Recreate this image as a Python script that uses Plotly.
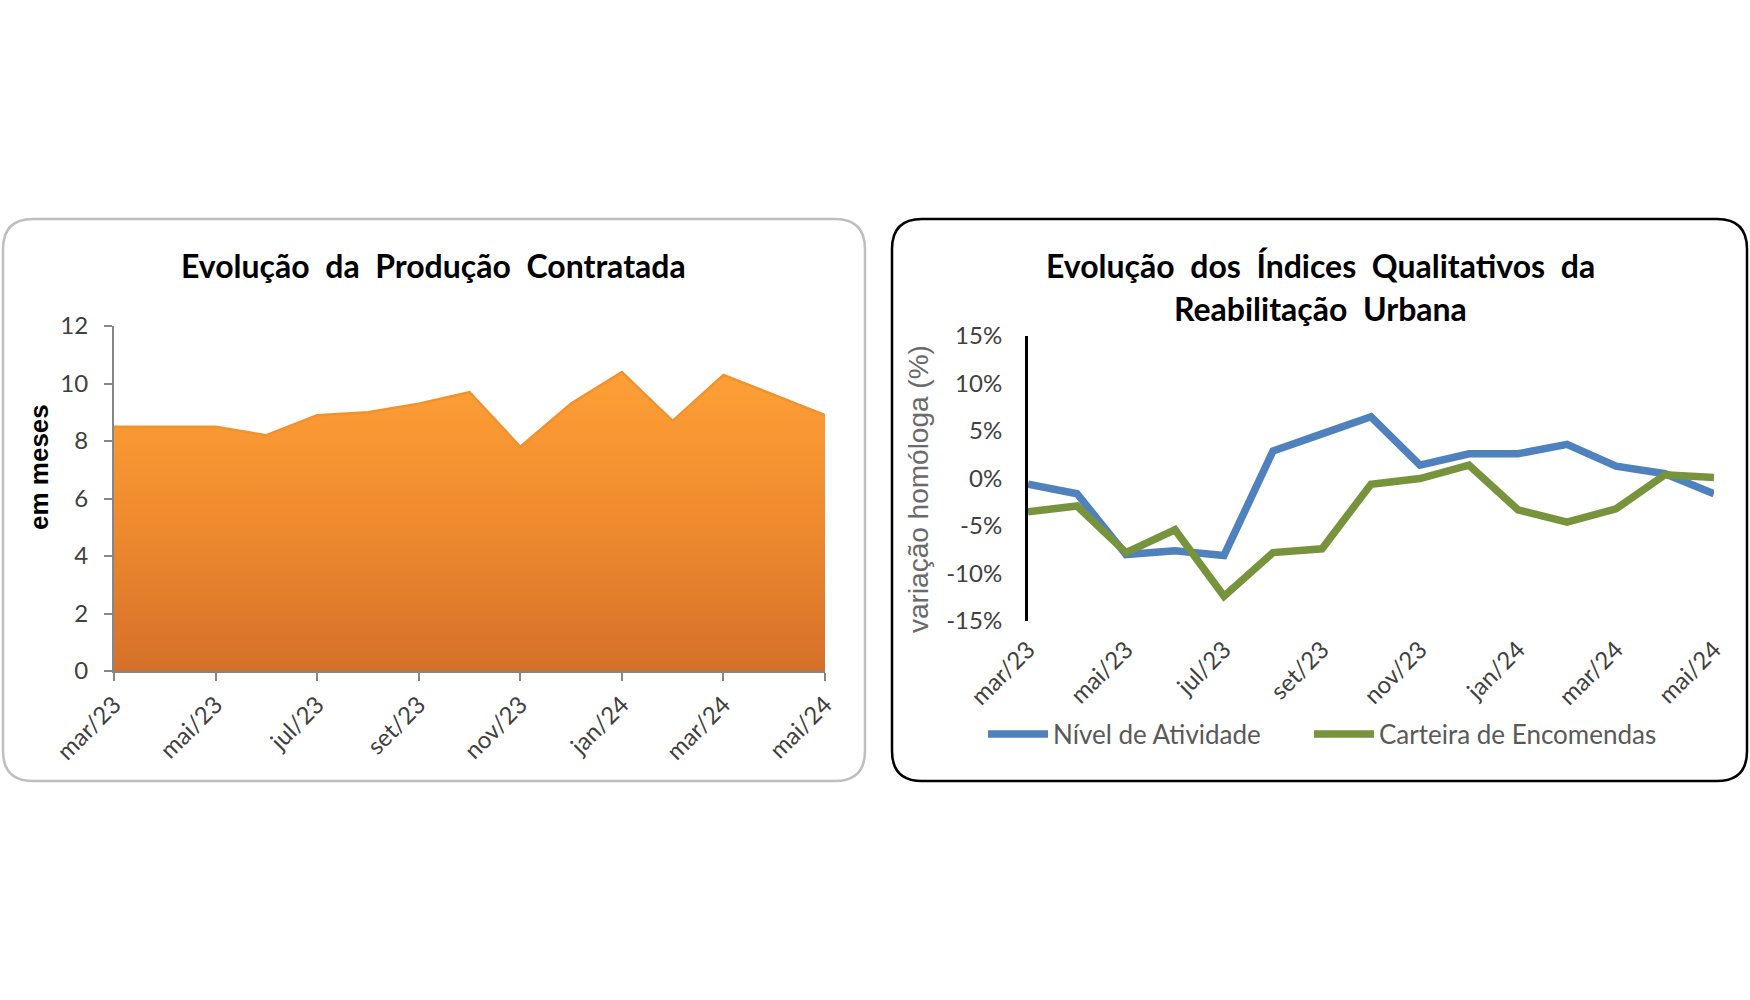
import plotly.graph_objects as go

W, H = 1750, 1000

months = ["mar/23", "abr/23", "mai/23", "jun/23", "jul/23", "ago/23", "set/23", "out/23",
          "nov/23", "dez/23", "jan/24", "fev/24", "mar/24", "abr/24", "mai/24"]
producao = [8.5, 8.5, 8.5, 8.2, 8.9, 9.0, 9.3, 9.7, 7.8, 9.3, 10.4, 8.7, 10.3, 9.6, 8.9]
nivel_atividade = [-0.6, -1.6, -8.0, -7.6, -8.1, 2.9, 4.7, 6.5, 1.4, 2.6, 2.6, 3.6, 1.3, 0.5, -1.6]
carteira_encomendas = [-3.5, -2.9, -7.8, -5.4, -12.4, -7.8, -7.4, -0.6, 0.0, 1.4, -3.3, -4.6, -3.2, 0.4, 0.1]
left_yticks = [0, 2, 4, 6, 8, 10, 12]
right_yticks = [-15, -10, -5, 0, 5, 10, 15]
right_yticktext = ["-15%", "-10%", "-5%", "0%", "5%", "10%", "15%"]

idx = list(range(len(months)))
tick_idx = idx[::2]
tick_txt = months[::2]

CAL = "Lato, 'Open Sans', sans-serif"
ARI = "'Liberation Sans', Arial, sans-serif"
SP = " &nbsp;"


def px(x):
    return x / W


def py(y):
    return 1 - y / H


def rrect(x0, y0, x1, y1, r):
    p = [
        f"M{px(x0 + r)},{py(y0)}", f"L{px(x1 - r)},{py(y0)}",
        f"Q{px(x1)},{py(y0)} {px(x1)},{py(y0 + r)}", f"L{px(x1)},{py(y1 - r)}",
        f"Q{px(x1)},{py(y1)} {px(x1 - r)},{py(y1)}", f"L{px(x0 + r)},{py(y1)}",
        f"Q{px(x0)},{py(y1)} {px(x0)},{py(y1 - r)}", f"L{px(x0)},{py(y0 + r)}",
        f"Q{px(x0)},{py(y0)} {px(x0 + r)},{py(y0)}", "Z",
    ]
    return " ".join(p)


fig = go.Figure()

fig.add_trace(go.Scatter(
    x=idx, y=producao, mode="lines", fill="tozeroy",
    line=dict(color="#F0922E", width=2.5),
    fillgradient=dict(type="vertical", start=0, stop=10.5,
                      colorscale=[[0, "#D5702A"], [0.5, "#EF8B2E"], [1, "#FFA036"]]),
    xaxis="x", yaxis="y", showlegend=False, hoverinfo="skip",
))

fig.add_trace(go.Scatter(
    x=idx, y=nivel_atividade, mode="lines", name="Nível de Atividade",
    line=dict(color="#4F81BD", width=7.5), xaxis="x2", yaxis="y2", legend="legend",
))
fig.add_trace(go.Scatter(
    x=idx, y=carteira_encomendas, mode="lines", name="Carteira de Encomendas",
    line=dict(color="#77933C", width=7.5), xaxis="x2", yaxis="y2", legend="legend2",
))

Lx = [px(114), px(825)]
Ly = [py(671), py(326)]
Rx = [px(1028), px(1714)]
Ry = [py(621), py(336)]

axis_font = dict(family=CAL, size=24, color="#404040")
title_font = dict(family=CAL, size=32, color="black")
legend_style = dict(orientation="h", yanchor="middle", xanchor="left",
                    font=dict(family=CAL, size=26, color="#595959"),
                    bgcolor="rgba(0,0,0,0)", itemwidth=60)

fig.update_layout(
    width=W, height=H, margin=dict(l=0, r=0, t=0, b=0, pad=0, autoexpand=False),
    paper_bgcolor="white", plot_bgcolor="rgba(0,0,0,0)",
    xaxis=dict(domain=Lx, anchor="y", range=[0, 14], tickvals=tick_idx, ticktext=tick_txt,
               tickangle=-45, showline=True, linecolor="#868686", linewidth=2,
               ticks="outside", ticklen=8, tickwidth=2, tickcolor="#868686", automargin=False,
               showgrid=False, zeroline=False, tickfont=axis_font, ticklabelstandoff=0),
    yaxis=dict(domain=Ly, anchor="x", range=[0, 12], tickvals=left_yticks,
               showline=True, linecolor="#868686", linewidth=2, automargin=False,
               ticks="outside", ticklen=8, tickwidth=2, tickcolor="#868686",
               showgrid=False, zeroline=False, tickfont=axis_font, ticklabelstandoff=11),
    xaxis2=dict(domain=Rx, anchor="y2", range=[0, 14], tickvals=tick_idx, ticktext=tick_txt,
                tickangle=-45, showline=False, ticks="outside", ticklen=4, automargin=False,
                tickcolor="rgba(0,0,0,0)", showgrid=False, zeroline=False, tickfont=axis_font),
    yaxis2=dict(domain=Ry, anchor="x2", range=[-15, 15], tickvals=right_yticks,
                ticktext=right_yticktext, showline=True, linecolor="black", linewidth=3,
                ticks="outside", ticklen=18, tickcolor="rgba(0,0,0,0)", automargin=False,
                showgrid=False, zeroline=False, tickfont=axis_font),
    xaxis3=dict(overlaying="x2", anchor="free", position=(Ry[0] + Ry[1]) / 2, domain=Rx,
                range=[0, 14], tickvals=tick_idx, showticklabels=False, automargin=False,
                showline=True, linecolor="black", linewidth=2.5,
                ticks="outside", ticklen=8, tickwidth=2, tickcolor="black",
                showgrid=False, zeroline=False),
    legend=dict(x=px(983), y=py(734), **legend_style),
    legend2=dict(x=px(1309), y=py(734), **legend_style),
    shapes=[
        dict(type="path", xref="paper", yref="paper", path=rrect(3, 219, 865, 781, 30),
             line=dict(color="#BFBFBF", width=2.5), fillcolor="rgba(0,0,0,0)", layer="below"),
        dict(type="path", xref="paper", yref="paper", path=rrect(892, 219, 1747, 781, 30),
             line=dict(color="black", width=2.5), fillcolor="rgba(0,0,0,0)", layer="below"),
    ],
    annotations=[
        dict(text="<b>" + SP.join("Evolução da Produção Contratada".split(" ")) + "</b>",
             xref="paper", yref="paper",
             x=px(433), y=py(265), xanchor="center", yanchor="middle", showarrow=False,
             font=title_font),
        dict(text="<b>" + SP.join("Evolução dos Índices Qualitativos da".split(" ")) + "</b>",
             xref="paper", yref="paper",
             x=px(1320), y=py(265), xanchor="center", yanchor="middle", showarrow=False,
             font=title_font),
        dict(text="<b>" + SP.join("Reabilitação Urbana".split(" ")) + "</b>",
             xref="paper", yref="paper",
             x=px(1320), y=py(308), xanchor="center", yanchor="middle", showarrow=False,
             font=title_font),
        dict(text="<b>em meses</b>", xref="paper", yref="paper", textangle=-90,
             x=px(39), y=py(467), xanchor="center", yanchor="middle", showarrow=False,
             font=dict(family=ARI, size=26, color="black")),
        dict(text="variação homóloga (%)", xref="paper", yref="paper", textangle=-90,
             x=px(918), y=py(489), xanchor="center", yanchor="middle", showarrow=False,
             font=dict(family=ARI, size=28, color="#6A6A6A")),
    ],
)

fig.write_html("out.html", config={"displayModeBar": False},
               post_script="document.body.style.margin='0';document.body.style.overflow='hidden';")
